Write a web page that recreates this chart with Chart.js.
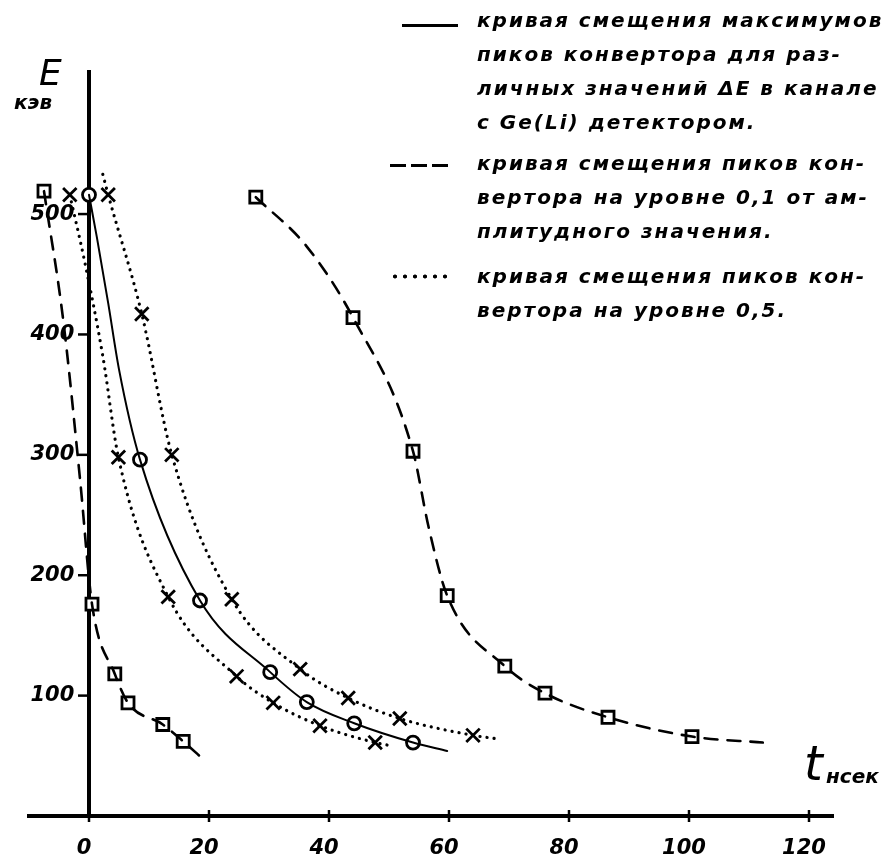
<!DOCTYPE html>
<html>
<head>
<meta charset="utf-8">
<script src="https://cdn.jsdelivr.net/npm/chart.js@4"></script>
<style>
  body { margin: 0; background: #fff; }
  #wrap { position: relative; width: 896px; height: 856px; }
  #chart { position: absolute; left: 0; top: 0; }
  .hand { position: absolute; font-family: "DejaVu Sans", sans-serif; font-style: italic; font-weight: bold; color: #000; white-space: nowrap; }
  .legend-text { font-size: 20px; line-height: 34px; letter-spacing: 2px; }
  .sample { position: absolute; }
  .sample.solid { height: 2.5px; background: #000; }
  .sample.dashed { height: 3px; background: repeating-linear-gradient(to right, #000 0 16px, transparent 16px 21px); }
  .sample.dotted { height: 5px; background: radial-gradient(circle, #000 1.7px, transparent 2.3px) 0 0 / 10px 5px repeat-x; }
</style>
</head>
<body>
<div id="wrap">
  <canvas id="chart" width="896" height="856"></canvas>

  <div class="hand" style="left:39px; top:52px; font-size:36px; font-weight:normal;">E</div>
  <div class="hand" style="left:14px; top:90px; font-size:20px;">кэв</div>
  <div class="hand" style="left:804px; top:735px; font-size:48px; font-weight:normal;">t</div>
  <div class="hand" style="left:826px; top:764px; font-size:20px;">нсек</div>

  <div class="sample solid" style="left:402px; top:24px; width:56px;"></div>
  <div class="hand legend-text" style="left:477px; top:3px;">кривая смещения максимумов<br>пиков конвертора для раз-<br>личных значений ΔE в канале<br>с Ge(Li) детектором.</div>

  <div class="sample dashed" style="left:390px; top:164px; width:58px;"></div>
  <div class="hand legend-text" style="left:477px; top:146px;">кривая смещения пиков кон-<br>вертора на уровне 0,1 от ам-<br>плитудного значения.</div>

  <div class="sample dotted" style="left:390px; top:274px; width:60px;"></div>
  <div class="hand legend-text" style="left:477px; top:259px;">кривая смещения пиков кон-<br>вертора на уровне 0,5.</div>
</div>

<script>
// axis ticks
const xTicks = [0, 20, 40, 60, 80, 100, 120];
const yTicks = [100, 200, 300, 400, 500];

// solid curve: peak maxima (circles)
const maxT = [0, 8.5, 18.5, 30.2, 36.3, 44.2, 54];
const maxE = [516, 296, 179, 119.5, 94.6, 77, 61];
const maxTraceT = [1.3, 3.2, 5, 59.7];
const maxTraceE = [481, 426, 371, 54];

// dotted curve, level 0.5, upper branch (crosses)
const halfHiT = [3.2, 8.8, 13.8, 23.8, 35.2, 43.2, 51.8, 64];
const halfHiE = [516, 417, 300, 180, 122, 98, 81, 67];
const halfHiTraceT = [2.3, 68.2];
const halfHiTraceE = [533, 64];

// dotted curve, level 0.5, lower branch (crosses)
const halfLoT = [-3.2, 4.9, 13.2, 24.6, 30.7, 38.5, 47.7];
const halfLoE = [516, 298, 182, 116, 94, 75, 61];
const halfLoTraceT = [-0.7, 2.3, 50.7];
const halfLoTraceE = [460, 382, 58];

// dashed curve, level 0.1, left branch (squares)
const tenthLoT = [-7.5, 0.5, 4.3, 6.5, 12.3, 15.7];
const tenthLoE = [519, 176, 118, 94, 76, 62];
const tenthLoTraceT = [-4.3, -1.5, 19.3];
const tenthLoTraceE = [412, 280, 46];

// dashed curve, level 0.1, right branch (squares)
const tenthHiT = [27.8, 44, 54, 59.7, 69.3, 76, 86.5, 100.5];
const tenthHiE = [514, 414, 303, 183, 124.5, 102, 82, 66];
const tenthHiTraceT = [36.3, 56.6, 112.3];
const tenthHiTraceE = [473, 240, 61];

function toPoints(ts, es) {
    return ts.map((t, i) => ({ x: t, y: es[i] }));
}

function curvePoints(ts, es, traceT, traceE) {
    let pts = toPoints(ts, es).concat(toPoints(traceT, traceE));
    pts.sort((a, b) => a.x - b.x);
    return pts;
}

function lineSet(pts, dash, width) {
    return {
        data: pts,
        showLine: true,
        borderColor: '#000',
        borderWidth: width,
        borderDash: dash,
        borderCapStyle: 'round',
        cubicInterpolationMode: 'monotone',
        pointRadius: 0,
        pointHoverRadius: 0
    };
}

function markerSet(pts, style, radius) {
    return {
        data: pts,
        showLine: false,
        pointStyle: style,
        pointRadius: radius,
        pointBorderColor: '#000',
        pointBackgroundColor: '#fff',
        pointBorderWidth: 2.8
    };
}

// hand-drawn style tick marks: across the t axis, to the left of the E axis
const tickMarks = {
    id: 'tickMarks',
    afterDraw(chart) {
        let c = chart.ctx;
        let xs = chart.scales.x, ys = chart.scales.y;
        let y0 = ys.getPixelForValue(0), x0 = xs.getPixelForValue(0);
        c.save();
        c.strokeStyle = '#000';
        c.lineWidth = 2.5;
        xTicks.forEach(v => {
            let px = xs.getPixelForValue(v);
            c.beginPath(); c.moveTo(px, y0 - 6); c.lineTo(px, y0 + 6); c.stroke();
        });
        yTicks.forEach(v => {
            let py = ys.getPixelForValue(v);
            c.beginPath(); c.moveTo(x0 - 11, py); c.lineTo(x0, py); c.stroke();
        });
        c.restore();
    }
};

const tickFont = { family: 'DejaVu Sans', size: 21, style: 'italic', weight: 'bold' };

let ctx = document.getElementById('chart').getContext('2d');
new Chart(ctx, {
    type: 'scatter',
    data: {
        datasets: [
            lineSet(curvePoints(maxT, maxE, maxTraceT, maxTraceE), [], 2),
            lineSet(curvePoints(halfHiT, halfHiE, halfHiTraceT, halfHiTraceE), [0.1, 7], 3.2),
            lineSet(curvePoints(halfLoT, halfLoE, halfLoTraceT, halfLoTraceE), [0.1, 7], 3.2),
            lineSet(curvePoints(tenthLoT, tenthLoE, tenthLoTraceT, tenthLoTraceE), [13, 10], 2.6),
            lineSet(curvePoints(tenthHiT, tenthHiE, tenthHiTraceT, tenthHiTraceE), [13, 10], 2.6),
            markerSet(toPoints(maxT, maxE), 'circle', 6.5),
            markerSet(toPoints(halfHiT, halfHiE), 'crossRot', 9.5),
            markerSet(toPoints(halfLoT, halfLoE), 'crossRot', 9.5),
            markerSet(toPoints(tenthLoT, tenthLoE), 'rect', 8.5),
            markerSet(toPoints(tenthHiT, tenthHiE), 'rect', 8.5)
        ]
    },
    plugins: [tickMarks],
    options: {
        responsive: false,
        animation: false,
        layout: { padding: { left: 29, right: 63, top: 72, bottom: 40 } },
        plugins: {
            legend: { display: false },
            tooltip: { enabled: false }
        },
        scales: {
            x: {
                type: 'linear',
                position: { y: 0 },
                min: -10,
                max: 124,
                afterBuildTicks: function(axis) {
                    axis.ticks = xTicks.map(v => ({ value: v }));
                },
                grid: { display: false },
                border: { display: true, color: '#000', width: 4 },
                ticks: { color: '#000', font: tickFont, padding: 12, labelOffset: -5, maxRotation: 0 }
            },
            y: {
                type: 'linear',
                position: { x: 0 },
                min: 0,
                max: 618,
                afterBuildTicks: function(axis) {
                    axis.ticks = yTicks.map(v => ({ value: v }));
                },
                grid: { display: false },
                border: { display: true, color: '#000', width: 4 },
                ticks: {
                    color: '#000',
                    font: tickFont,
                    // labels sit right-aligned on the axis line, pad them off it
                    callback: function(value) {
                        return value + '\u2002\u2009';
                    }
                }
            }
        }
    }
});
</script>
</body>
</html>
